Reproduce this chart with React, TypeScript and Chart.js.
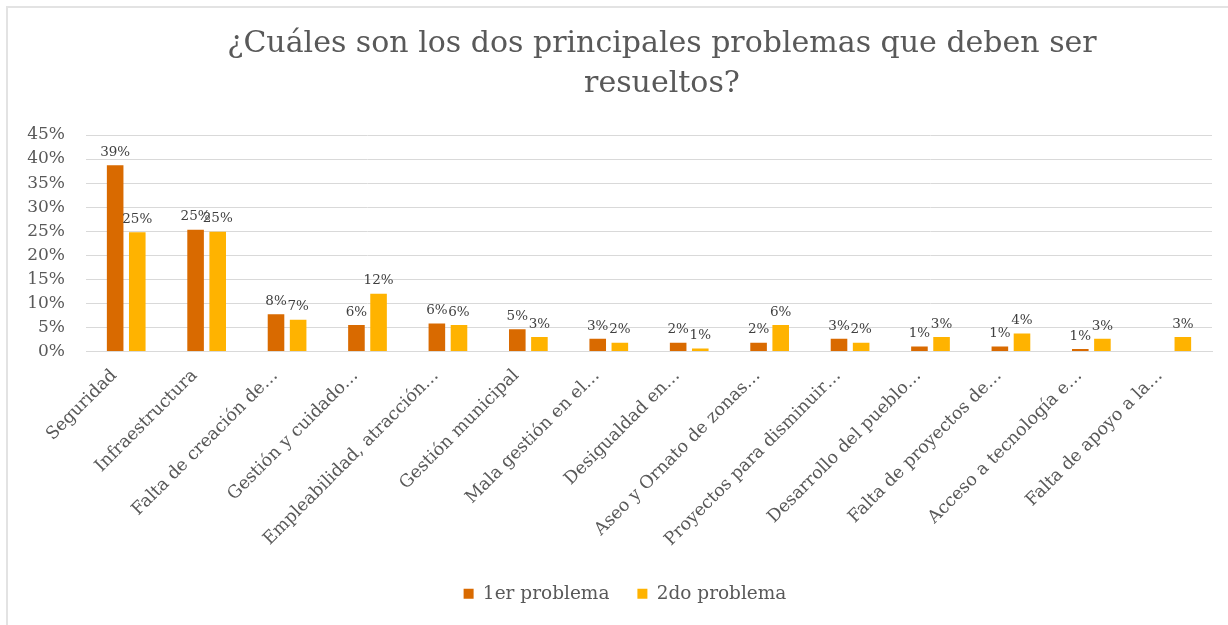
import React, { useEffect, useRef } from "react";
import { Chart, registerables } from "chart.js";

Chart.register(...registerables);

const titleLines = ["¿Cuáles son los dos principales problemas que deben ser", "resueltos?"];

const categories = [
  "Seguridad",
  "Infraestructura",
  "Falta de creación de…",
  "Gestión y cuidado…",
  "Empleabilidad, atracción…",
  "Gestión municipal",
  "Mala gestión en el…",
  "Desigualdad en…",
  "Aseo y Ornato de zonas…",
  "Proyectos para disminuir…",
  "Desarrollo del pueblo…",
  "Falta de proyectos de…",
  "Acceso a tecnología e…",
  "Falta de apoyo a la…",
];

const primerProblema = [38.7, 25.3, 7.7, 5.5, 5.8, 4.6, 2.6, 1.8, 1.8, 2.6, 1.0, 1.0, 0.5, null];
const segundoProblema = [24.8, 24.9, 6.6, 12.0, 5.5, 3.0, 1.8, 0.6, 5.5, 1.8, 3.0, 3.7, 2.6, 3.0];

const seriesNames = ["1er problema", "2do problema"];
const seriesColors = ["#D96A00", "#FFB300"];

const yTicks = { min: 0, max: 45, step: 5 };

const FONT = "'DejaVu Serif', 'Liberation Serif', serif";

const dataLabelPlugin = {
  id: "dataLabels",
  afterDatasetsDraw(chart: any) {
    const ctx = chart.ctx;
    ctx.save();
    ctx.font = `13.5px ${FONT}`;
    ctx.fillStyle = "#404040";
    ctx.textAlign = "center";
    ctx.textBaseline = "bottom";
    chart.data.datasets.forEach((ds: any, di: number) => {
      const meta = chart.getDatasetMeta(di);
      meta.data.forEach((el: any, i: number) => {
        const v = ds.data[i];
        if (v === null || v === undefined) return;
        ctx.fillText(Math.round(v) + "%", el.x, el.y - 6);
      });
    });
    ctx.restore();
  },
};

const legendShiftPlugin = {
  id: "legendShift",
  afterLayout(chart: any) {
    if (chart.legend) {
      chart.legend.left += 28;
    }
  },
};

export default function App() {
  const ref = useRef<HTMLCanvasElement | null>(null);

  useEffect(() => {
    if (!ref.current) return;
    const chart = new Chart(ref.current, {
      type: "bar",
      data: {
        labels: categories,
        datasets: [
          {
            label: seriesNames[0],
            data: primerProblema,
            backgroundColor: seriesColors[0],
            barPercentage: 0.75,
            categoryPercentage: 0.55,
          },
          {
            label: seriesNames[1],
            data: segundoProblema,
            backgroundColor: seriesColors[1],
            barPercentage: 0.75,
            categoryPercentage: 0.55,
          },
        ],
      },
      options: {
        animation: false,
        responsive: false,
        maintainAspectRatio: false,
        layout: { padding: { left: 10, right: 16, top: 135, bottom: 12 } },
        plugins: {
          title: { display: false },
          tooltip: { enabled: false },
          legend: {
            position: "bottom",
            labels: {
              boxWidth: 10,
              boxHeight: 10,
              color: "#595959",
              font: { family: FONT, size: 18.5 },
              padding: 28,
            },
          },
        },
        scales: {
          x: {
            grid: { display: false },
            border: { color: "#D9D9D9" },
            ticks: {
              color: "#595959",
              font: { family: FONT, size: 17.5 },
              maxRotation: 45,
              minRotation: 45,
              autoSkip: false,
              padding: 6,
              labelOffset: -12,
            },
          },
          y: {
            min: yTicks.min,
            max: yTicks.max,
            grid: { color: "#D9D9D9", drawTicks: false },
            border: { display: false },
            afterFit: (scale: any) => {
              scale.width = 76;
            },
            ticks: {
              stepSize: yTicks.step,
              autoSkip: false,
              color: "#595959",
              font: { family: FONT, size: 17 },
              padding: 21,
              callback: (v: any) => v + "%",
            },
          },
        },
      },
      plugins: [dataLabelPlugin, legendShiftPlugin],
    });
    return () => chart.destroy();
  }, []);

  return (
    <div style={{ position: "fixed", left: 0, top: 0, width: 1228, height: 625, overflow: "hidden", background: "#fff" }}>
      <div
        style={{
          position: "absolute",
          left: 6,
          top: 6,
          width: 1260,
          height: 660,
          border: "2px solid #E3E3E3",
          boxSizing: "border-box",
        }}
      />
      <canvas ref={ref} width={1228} height={625} style={{ position: "absolute", left: 0, top: 0 }} />
      <div
        style={{
          position: "absolute",
          left: 162,
          width: 1000,
          top: 22,
          textAlign: "center",
          fontFamily: FONT,
          fontSize: 30,
          lineHeight: "40px",
          color: "#595959",
        }}
      >
        {titleLines[0]}
        <br />
        {titleLines[1]}
      </div>
    </div>
  );
}
